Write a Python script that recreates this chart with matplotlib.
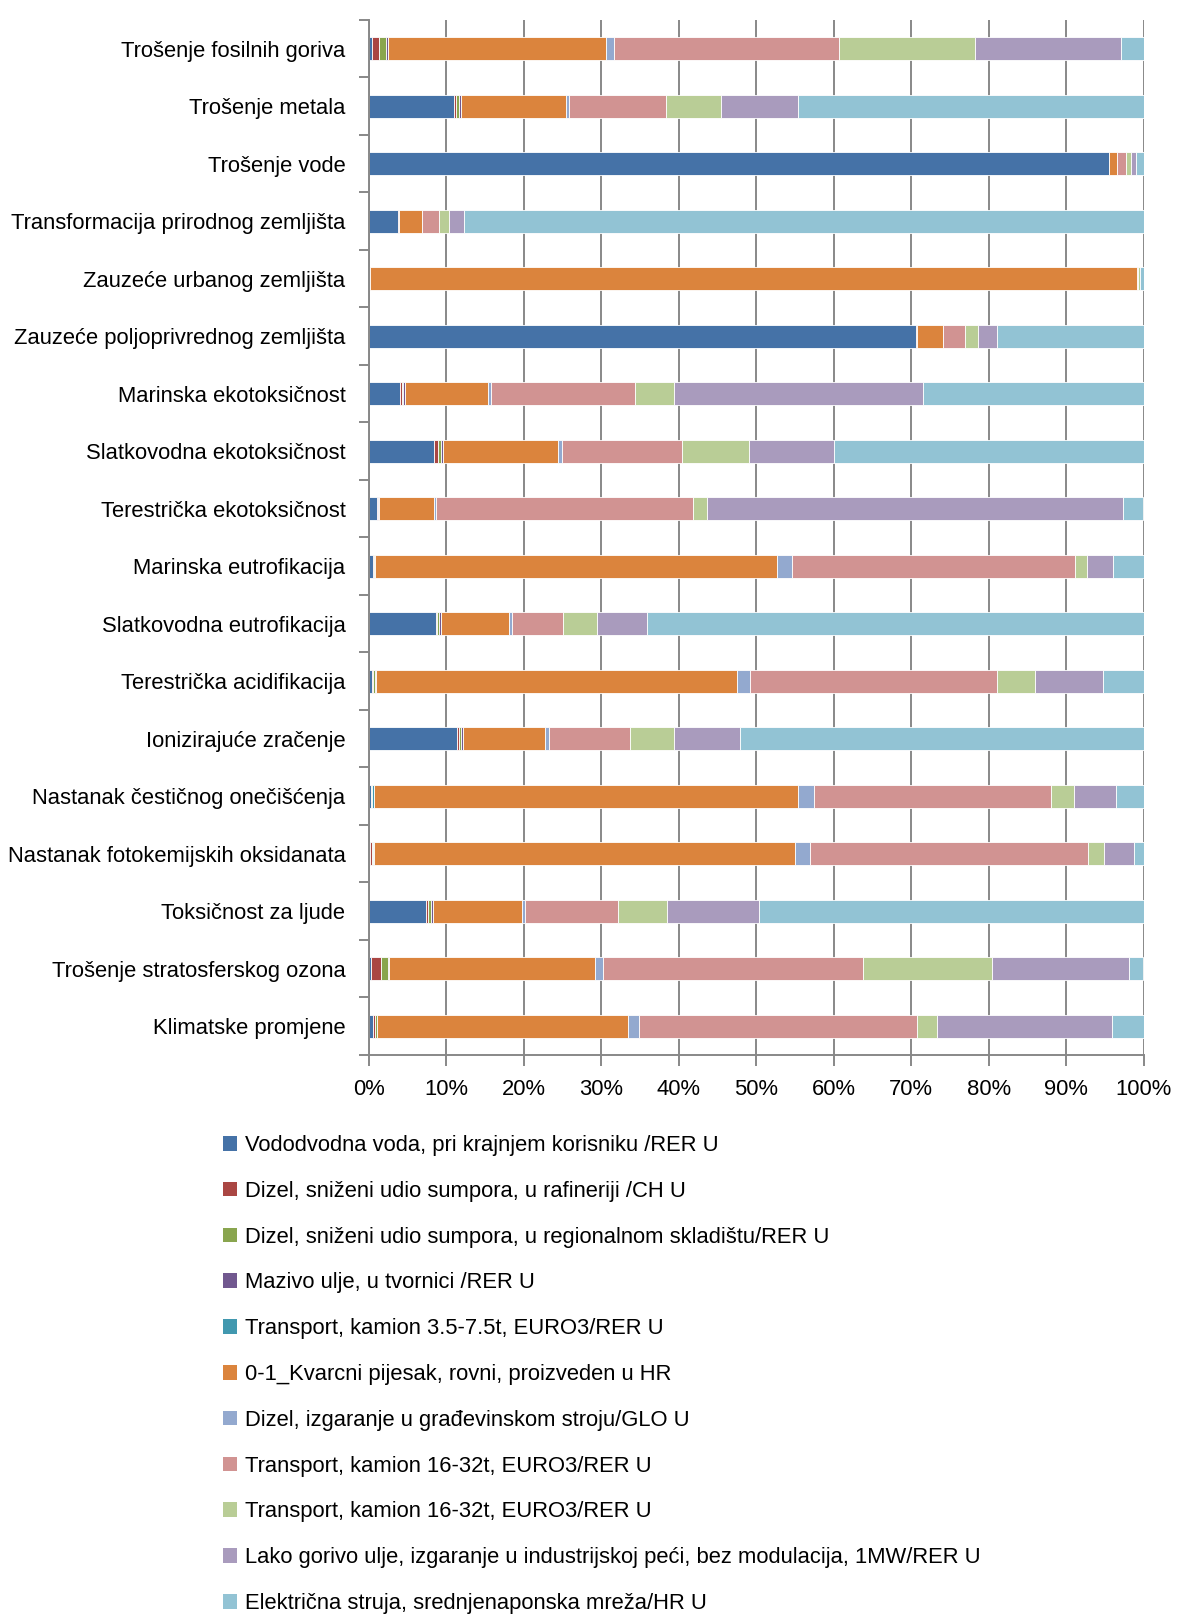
import numpy as np
import matplotlib
matplotlib.use("Agg")
import matplotlib.pyplot as plt
from matplotlib import font_manager
from matplotlib.ticker import FixedLocator
from matplotlib.patches import Patch

# ---------------- data ----------------
categories = [
    "Trošenje fosilnih goriva", "Trošenje metala", "Trošenje vode",
    "Transformacija prirodnog zemljišta", "Zauzeće urbanog zemljišta",
    "Zauzeće poljoprivrednog zemljišta", "Marinska ekotoksičnost",
    "Slatkovodna ekotoksičnost", "Terestrička ekotoksičnost",
    "Marinska eutrofikacija", "Slatkovodna eutrofikacija",
    "Terestrička acidifikacija", "Ionizirajuće zračenje",
    "Nastanak čestičnog onečišćenja", "Nastanak fotokemijskih oksidanata",
    "Toksičnost za ljude", "Trošenje stratosferskog ozona", "Klimatske promjene",
]

series_labels = [
    "Vododvodna voda, pri krajnjem korisniku /RER U",
    "Dizel, sniženi udio sumpora, u rafineriji /CH U",
    "Dizel, sniženi udio sumpora, u regionalnom skladištu/RER U",
    "Mazivo ulje, u tvornici /RER U",
    "Transport, kamion 3.5-7.5t, EURO3/RER U",
    "0-1_Kvarcni pijesak, rovni, proizveden u HR",
    "Dizel, izgaranje u građevinskom stroju/GLO U",
    "Transport, kamion 16-32t, EURO3/RER U",
    "Transport, kamion 16-32t, EURO3/RER U",
    "Lako gorivo ulje, izgaranje u industrijskoj peći, bez modulacija, 1MW/RER U",
    "Električna struja, srednjenaponska mreža/HR U",
]

vodovodna   = [0.4, 10.97, 95.5, 3.8, 0.15, 70.6, 4.0, 8.4, 1.0, 0.56, 8.65, 0.4, 11.4, 0.2, 0.15, 7.4, 0.2, 0.56]
dizel_ch    = [0.9, 0.23, 0, 0.1, 0, 0.1, 0.2, 0.45, 0.1, 0.09, 0.15, 0.15, 0.2, 0.1, 0.2, 0.2, 1.35, 0.24]
dizel_rer   = [0.85, 0.4, 0, 0, 0, 0, 0.25, 0.45, 0.1, 0.07, 0.2, 0.25, 0.3, 0.1, 0.15, 0.4, 0.85, 0.2]
mazivo      = [0.25, 0.3, 0, 0, 0, 0, 0.15, 0.2, 0.1, 0.05, 0.25, 0.05, 0.3, 0.05, 0.05, 0.2, 0.2, 0]
transp_35   = [0, 0, 0, 0, 0, 0, 0, 0, 0, 0, 0, 0, 0, 0.15, 0.05, 0, 0, 0]
kvarcni     = [28.2, 13.5, 1.1, 2.9, 99.05, 3.4, 10.8, 14.9, 7.1, 51.93, 8.85, 46.65, 10.55, 54.8, 54.4, 11.6, 26.6, 32.5]
dizel_glo   = [1.0, 0.45, 0, 0, 0, 0, 0.3, 0.5, 0.3, 1.9, 0.3, 1.7, 0.45, 2.0, 2.0, 0.4, 0.95, 1.3]
transp_16a  = [29.1, 12.45, 1.2, 2.2, 0.15, 2.8, 18.7, 15.5, 33.1, 36.6, 6.6, 31.9, 10.5, 30.7, 35.8, 12.0, 33.65, 35.9]
transp_16b  = [17.5, 7.2, 0.6, 1.3, 0.15, 1.7, 5.0, 8.6, 1.8, 1.5, 4.4, 4.9, 5.7, 2.9, 2.1, 6.3, 16.6, 2.6]
lako_gorivo = [18.9, 9.9, 0.65, 2.0, 0, 2.5, 32.1, 11.1, 53.8, 3.3, 6.5, 8.8, 8.5, 5.5, 3.9, 11.9, 17.7, 22.6]
struja      = [2.9, 44.6, 0.95, 87.7, 0.5, 18.9, 28.5, 39.9, 2.6, 4.0, 64.1, 5.2, 52.1, 3.5, 1.2, 49.6, 1.9, 4.1]

all_series = [vodovodna, dizel_ch, dizel_rer, mazivo, transp_35, kvarcni,
              dizel_glo, transp_16a, transp_16b, lako_gorivo, struja]

colors = ["#4572A7", "#AA4643", "#89A54E", "#71588F", "#4198AF", "#DB843D",
          "#93A9CF", "#D19392", "#B9CD96", "#A99BBD", "#92C3D4"]

tick_vals = list(range(0, 101, 10))
tick_labels = [f"{v}%" for v in tick_vals]

# ---------------- fonts ----------------
names = {f.name for f in font_manager.fontManager.ttflist}
narrow = None
for cand in ["Liberation Sans Narrow", "Arial Narrow"]:
    if cand in names:
        narrow = cand
        break
if narrow:
    fam, FS, LSP = narrow, 18, 0.8
else:
    fam, FS, LSP = "Liberation Sans", 15.8, 1.13
plt.rcParams["font.family"] = [fam, "DejaVu Sans"]

# ---------------- figure ----------------
W, H = 1179, 1617
fig = plt.figure(figsize=(W / 100, H / 100), dpi=100)
left_px, right_px, top_px, bot_px = 369, 1143.5, 20, 1055
ax = fig.add_axes([left_px / W, 1 - bot_px / H, (right_px - left_px) / W, (bot_px - top_px) / H])

data = np.array(all_series, dtype=float)
totals = data.sum(axis=0)
pct = data / totals * 100.0

y = np.arange(len(categories))
left = np.zeros(len(categories))
for vals, col, lab in zip(pct, colors, series_labels):
    ax.barh(y, vals, left=left, height=0.4, color=col,
            edgecolor="white", linewidth=0.6, label=lab)
    left += vals

ax.set_xlim(0, 100)
ax.set_ylim(len(categories) - 0.5, -0.5)

grey = "#888888"
for s in ["top", "right"]:
    ax.spines[s].set_visible(False)
for s in ["left", "bottom"]:
    ax.spines[s].set_color(grey)
    ax.spines[s].set_linewidth(1.4)

ax.set_xticks(tick_vals)
ax.set_xticklabels(tick_labels, fontsize=FS)
ax.tick_params(axis="x", length=8, width=1.4, color=grey, pad=9, labelcolor="black")
ax.xaxis.grid(True, color=grey, linewidth=1.4)
ax.set_axisbelow(True)

ax.set_yticks(y)
ax.set_yticklabels(categories, fontsize=FS)
ax.tick_params(axis="y", which="major", length=0, pad=17)
ax.yaxis.set_minor_locator(FixedLocator(np.arange(-0.5, len(categories), 1.0)))
ax.tick_params(axis="y", which="minor", length=7, width=1.4, color=grey, direction="out")

leg_handles = [Patch(facecolor=c, edgecolor="none") for c in colors]
fig.legend(leg_handles, series_labels, loc="upper left",
           bbox_to_anchor=(223 / W, 1 - 1135 / H), frameon=False, fontsize=FS,
           handlelength=0.65, handleheight=0.65, handletextpad=0.35,
           labelspacing=LSP, borderpad=0, borderaxespad=0)

fig.savefig("out.png", dpi=100)
